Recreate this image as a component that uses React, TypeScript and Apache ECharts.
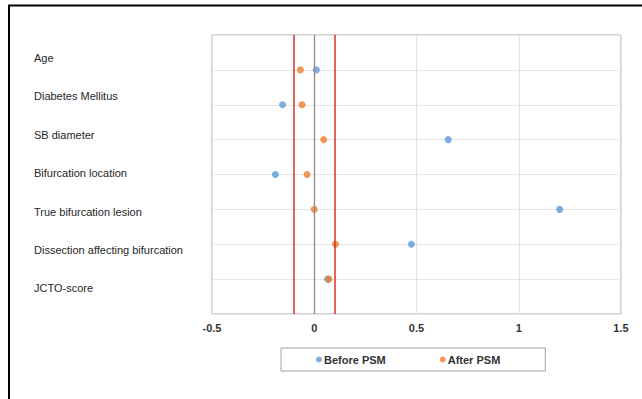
import React, { useEffect, useRef } from "react";
import * as echarts from "echarts";

const categories = [
  "Age",
  "Diabetes Mellitus",
  "SB diameter",
  "Bifurcation location",
  "True bifurcation lesion",
  "Dissection affecting bifurcation",
  "JCTO-score",
];
const beforePSM = [0.01, -0.155, 0.655, -0.19, 1.2, 0.475, 0.065];
const afterPSM = [-0.068, -0.06, 0.046, -0.035, 0.0, 0.104, 0.072];
const xTicks = { min: -0.5, max: 1.5, interval: 0.5 };
const thresholds = [-0.1, 0.1];
const seriesNames = ["Before PSM", "After PSM"];

export default function App() {
  const ref = useRef<HTMLDivElement>(null);
  useEffect(() => {
    if (!ref.current) return;
    const chart = echarts.init(ref.current, undefined, { renderer: "svg" });
    const font = "Liberation Sans, Arial, sans-serif";
    chart.setOption({
      animation: false,
      backgroundColor: "#fff",
      textStyle: { fontFamily: font },
      graphic: [
        {
          type: "rect",
          shape: { x: 9, y: 5.5, width: 700, height: 500 },
          style: { fill: "none", stroke: "#000", lineWidth: 2 },
          silent: true,
        },
      ],
      grid: [
        { left: 212, right: 21, top: 35, bottom: 85, show: true, borderColor: "#a6a6a6", borderWidth: 1, backgroundColor: "transparent" },
        { left: 212, right: 21, top: 38.8, bottom: 91.4, show: false },
      ],
      xAxis: [
        {
          type: "value",
          gridIndex: 0,
          min: xTicks.min,
          max: xTicks.max,
          interval: xTicks.interval,
          axisLine: { show: false },
          axisTick: { show: false },
          splitLine: { show: true, lineStyle: { color: "#e3e3e3", width: 1 } },
          axisLabel: { color: "#333", fontSize: 11, fontWeight: "bold", margin: 8, fontFamily: font },
        },
        { type: "value", gridIndex: 1, show: false, min: 0, max: 1 },
      ],
      yAxis: [
        {
          type: "value",
          gridIndex: 0,
          min: 0,
          max: 8,
          interval: 1,
          inverse: true,
          axisLine: { show: false },
          axisTick: { show: false },
          axisLabel: { show: false },
          splitLine: { show: true, lineStyle: { color: "#e6e6e6", width: 1 } },
        },
        {
          type: "category",
          gridIndex: 1,
          data: categories,
          inverse: true,
          axisLine: { show: false },
          axisTick: { show: false },
          splitLine: { show: false },
          axisLabel: { align: "left", margin: 178, color: "#262626", fontSize: 11, fontFamily: font },
        },
      ],
      legend: {
        data: seriesNames,
        left: 281,
        top: 348,
        icon: "circle",
        itemWidth: 6,
        itemHeight: 6,
        itemGap: 54,
        padding: [6, 45, 6, 35],
        borderColor: "#a0a0a0",
        borderWidth: 1,
        textStyle: { color: "#333", fontSize: 11, fontWeight: "bold", fontFamily: font, padding: [0, 0, 0, -3] },
      },
      series: [
        {
          name: seriesNames[0],
          type: "scatter",
          xAxisIndex: 0,
          yAxisIndex: 0,
          symbolSize: 7,
          itemStyle: { color: "#5b9bd5" },
          data: beforePSM.map((v, i) => [v, i + 1]),
          markLine: {
            silent: true,
            symbol: "none",
            label: { show: false },
            lineStyle: { color: "#8c8c8c", width: 1.3, type: "solid" },
            data: [{ xAxis: 0 }],
          },
        },
        {
          name: seriesNames[1],
          type: "scatter",
          xAxisIndex: 0,
          yAxisIndex: 0,
          symbolSize: 7,
          itemStyle: { color: "#ed7d31" },
          data: afterPSM.map((v, i) => [v, i + 1]),
          markLine: {
            silent: true,
            symbol: "none",
            label: { show: false },
            lineStyle: { color: "#d9302a", width: 1.5, type: "solid" },
            data: thresholds.map((t) => ({ xAxis: t })),
          },
        },
      ],
    });
    return () => chart.dispose();
  }, []);
  return (
    <div style={{ position: "absolute", left: 0, top: 0, width: 642, height: 399, background: "#fff" }}>
      <div ref={ref} style={{ width: 642, height: 399 }} />
    </div>
  );
}
